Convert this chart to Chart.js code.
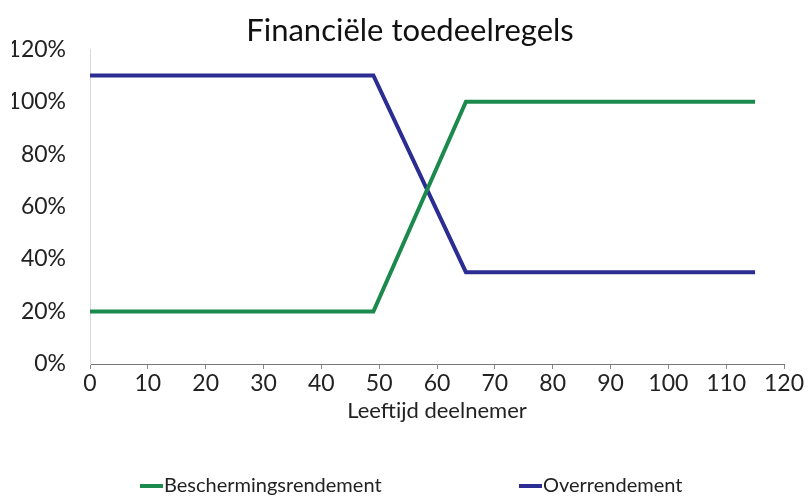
<!DOCTYPE html>
<html>
<head>
<meta charset="utf-8">
<script src="https://cdn.jsdelivr.net/npm/chart.js@4/dist/chart.umd.min.js"></script>
<style>
  html, body { margin: 0; padding: 0; background: #fff; }
  #wrap { position: relative; width: 808px; height: 496px; }
  #legend { position: absolute; left: 0; top: 472px; width: 808px; height: 24px;
    font-family: Lato, sans-serif; font-size: 20px; color: #222; }
  .item { position: absolute; top: 0; display: flex; align-items: center; white-space: nowrap; }
  .swatch { display: inline-block; width: 23px; height: 4px; margin-right: 1px; margin-top: 3px; }
</style>
</head>
<body>
<div id="wrap">
  <canvas id="chart" width="808" height="496"></canvas>
  <div id="legend"></div>
</div>
<script>
// ======= data =======
const ages = [0, 49, 65, 115];
const bescherming = [20, 20, 100, 100];
const overrendement = [110, 110, 35, 35];
const seriesNames = ['Beschermingsrendement', 'Overrendement'];
const seriesColors = ['#1b8a4c', '#2b2d93'];
const legendLeft = [140, 519];

const FONT = 'Lato, sans-serif';

function toPoints(values) {
  return ages.map((a, i) => ({ x: a, y: values[i] }));
}

const ctx = document.getElementById('chart').getContext('2d');
/* global Chart */
new Chart(ctx, {
  type: 'line',
  data: {
    datasets: [
      { label: seriesNames[0], data: toPoints(bescherming), borderColor: seriesColors[0], borderWidth: 4, pointRadius: 0, tension: 0 },
      { label: seriesNames[1], data: toPoints(overrendement), borderColor: seriesColors[1], borderWidth: 4, pointRadius: 0, tension: 0 }
    ]
  },
  options: {
    responsive: false,
    animation: false,
    layout: { padding: { left: 12, right: 0, top: 0, bottom: 74 } },
    plugins: {
      legend: { display: false },
      tooltip: { enabled: false },
      title: {
        display: true,
        text: 'Financiële toedeelregels',
        color: '#111',
        font: { family: FONT, size: 31, weight: 'normal' },
        padding: { top: 12, bottom: 0 }
      }
    },
    scales: {
      x: {
        type: 'linear',
        min: 0, max: 120,
        afterFit: (scale) => { scale.paddingRight = 24; },
        ticks: { stepSize: 10, color: '#222', font: { family: FONT, size: 23, lineHeight: 1 }, padding: 3, maxRotation: 0 },
        grid: { drawOnChartArea: false, drawTicks: true, tickLength: 5, color: '#888' },
        border: { color: '#777', width: 1 },
        title: { display: true, text: 'Leeftijd deelnemer', color: '#222', font: { family: FONT, size: 22, lineHeight: 1 }, padding: { top: 2, bottom: 0 } }
      },
      y: {
        min: 0, max: 120,
        afterFit: (scale) => { scale.width = 78; },
        ticks: { stepSize: 20, color: '#222', font: { family: FONT, size: 23 }, padding: 24, callback: (v) => v + '%' },
        grid: { drawOnChartArea: false, drawTicks: false },
        border: { color: '#d9d9d9', width: 1 }
      }
    }
  }
});

// legend below the plot
const $legend = document.getElementById('legend');
seriesNames.forEach((name, i) => {
  const item = document.createElement('div');
  item.className = 'item';
  item.style.left = legendLeft[i] + 'px';
  item.innerHTML = '<span class="swatch" style="background:' + seriesColors[i] + '"></span>' + name;
  $legend.appendChild(item);
});
</script>
</body>
</html>
